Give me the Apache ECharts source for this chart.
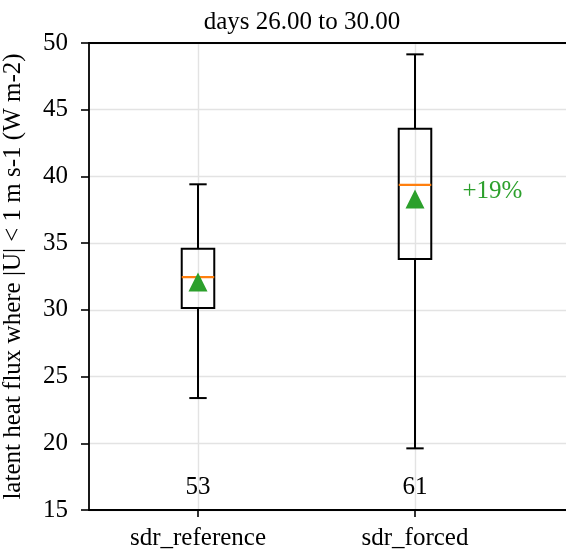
<!DOCTYPE html>
<html><head><meta charset="utf-8">
<script src="https://cdn.jsdelivr.net/npm/echarts@6/dist/echarts.min.js"></script>
<style>html,body{margin:0;padding:0;background:#fff}#c{width:566px;height:556px}</style>
</head><body><div id="c"></div>
<script>
const categories = ['sdr_reference', 'sdr_forced'];
const whiskerLow = [23.39, 19.62];
const q1 = [30.14, 33.81];
const median = [32.46, 39.36];
const q3 = [34.58, 43.58];
const whiskerHigh = [39.41, 49.15];
const means = [32.09, 38.31];
const counts = [53, 61];
const yTicks = [15, 20, 25, 30, 35, 40, 45, 50];
const titleText = 'days 26.00 to 30.00';
const yName = 'latent heat flux where |U| < 1 m s-1 (W m-2)';

const FONT = 'Liberation Serif';
const FS = 25;
const BOX_W = 0.15, CAP_W = 0.08;

const boxData = categories.map((c, i) => [i + 1, whiskerLow[i], q1[i], median[i], q3[i], whiskerHigh[i]]);
const meanData = categories.map((c, i) => [i + 1, means[i]]);
const countData = categories.map((c, i) => ({value: [i + 1, 16.69], n: counts[i]}));
const pct = Math.round((means[1] / means[0] - 1) * 100);
const pctLabel = (pct >= 0 ? '+' : '') + pct + '%';

const chart = echarts.init(document.getElementById('c'), null, {renderer: 'canvas'});
chart.setOption({
  animation: false,
  backgroundColor: '#fff',
  title: {
    text: titleText, left: 297, top: 5, textAlign: 'center',
    textStyle: {fontFamily: FONT, fontSize: FS, fontWeight: 'normal', color: '#000'}
  },
  grid: [
    {left: -19, width: 651, top: 43, bottom: 46, outerBoundsMode: 'none', containLabel: false},
    {left: 89, right: 0, top: 43, bottom: 46, outerBoundsMode: 'none', containLabel: false}
  ],
  xAxis: [
    {gridIndex: 0, type: 'value', min: 0, max: 3, interval: 1,
     axisLine: {show: false},
     axisTick: {show: true, length: 7, inside: false, lineStyle: {color: '#000', width: 1.6}},
     axisLabel: {margin: 16, fontFamily: FONT, fontSize: FS, color: '#000',
       formatter: v => (v >= 1 && v <= categories.length && Number.isInteger(v)) ? categories[v - 1] : ''},
     splitLine: {show: true, lineStyle: {color: '#e3e3e3', width: 1.4}}},
    {gridIndex: 1, type: 'value', min: 0, max: 1, position: 'bottom',
     axisLine: {show: true, onZero: false, lineStyle: {color: '#000', width: 1.8}},
     axisTick: {show: false}, axisLabel: {show: false}, splitLine: {show: false}},
    {gridIndex: 1, type: 'value', min: 0, max: 1, position: 'top',
     axisLine: {show: true, onZero: false, lineStyle: {color: '#000', width: 1.8}},
     axisTick: {show: false}, axisLabel: {show: false}, splitLine: {show: false}}
  ],
  yAxis: [
    {gridIndex: 0, type: 'value', min: 15, max: 50, show: false, splitLine: {show: false}},
    {gridIndex: 1, type: 'value', min: yTicks[0], max: yTicks[yTicks.length - 1], interval: 5,
     axisLine: {show: true, onZero: false, lineStyle: {color: '#000', width: 1.8}},
     axisTick: {show: true, length: 8, lineStyle: {color: '#000', width: 1.6}},
     axisLabel: {margin: 21, fontFamily: FONT, fontSize: FS, color: '#000'},
     splitLine: {show: true, lineStyle: {color: '#e3e3e3', width: 1.4}},
     name: yName, nameLocation: 'middle', nameGap: 63, nameRotate: 90,
     nameTextStyle: {fontFamily: FONT, fontSize: FS, color: '#000'}}
  ],
  series: [
    {
      type: 'custom', xAxisIndex: 0, yAxisIndex: 0, data: boxData, z: 3,
      renderItem(params, api) {
        const x = api.value(0);
        const lo = api.value(1), b1 = api.value(2), md = api.value(3), b3 = api.value(4), hi = api.value(5);
        const pLo = api.coord([x, lo]), pB1 = api.coord([x, b1]), pMd = api.coord([x, md]);
        const pB3 = api.coord([x, b3]), pHi = api.coord([x, hi]);
        const bl = api.coord([x - BOX_W / 2, b1])[0], br = api.coord([x + BOX_W / 2, b1])[0];
        const cl = api.coord([x - CAP_W / 2, b1])[0], cr = api.coord([x + CAP_W / 2, b1])[0];
        const ls = {stroke: '#000', lineWidth: 2, fill: null};
        return {type: 'group', children: [
          {type: 'line', shape: {x1: pHi[0], y1: pHi[1], x2: pB3[0], y2: pB3[1]}, style: ls},
          {type: 'line', shape: {x1: pLo[0], y1: pLo[1], x2: pB1[0], y2: pB1[1]}, style: ls},
          {type: 'line', shape: {x1: cl, y1: pHi[1], x2: cr, y2: pHi[1]}, style: ls},
          {type: 'line', shape: {x1: cl, y1: pLo[1], x2: cr, y2: pLo[1]}, style: ls},
          {type: 'rect', shape: {x: bl, y: pB3[1], width: br - bl, height: pB1[1] - pB3[1]}, style: {stroke: '#000', lineWidth: 2, fill: 'rgba(0,0,0,0)'}},
          {type: 'line', shape: {x1: bl, y1: pMd[1], x2: br, y2: pMd[1]}, style: {stroke: '#ff7f0e', lineWidth: 2.2}}
        ]};
      }
    },
    {
      type: 'scatter', xAxisIndex: 0, yAxisIndex: 0, data: meanData, z: 4,
      symbol: 'triangle', symbolSize: 19, itemStyle: {color: '#2ca02c', opacity: 1}
    },
    {
      type: 'scatter', xAxisIndex: 0, yAxisIndex: 0, data: countData, symbolSize: 0,
      itemStyle: {opacity: 1},
      label: {show: true, position: 'inside', fontFamily: FONT, fontSize: FS, color: '#000', opacity: 1,
        formatter: p => String(p.data.n)}
    },
    {
      type: 'scatter', xAxisIndex: 0, yAxisIndex: 0, data: [[2.357, 38.91]], symbolSize: 0,
      itemStyle: {opacity: 1},
      label: {show: true, position: 'inside', fontFamily: FONT, fontSize: FS, color: '#2ca02c', opacity: 1,
        formatter: () => pctLabel}
    }
  ]
});
</script></body></html>
